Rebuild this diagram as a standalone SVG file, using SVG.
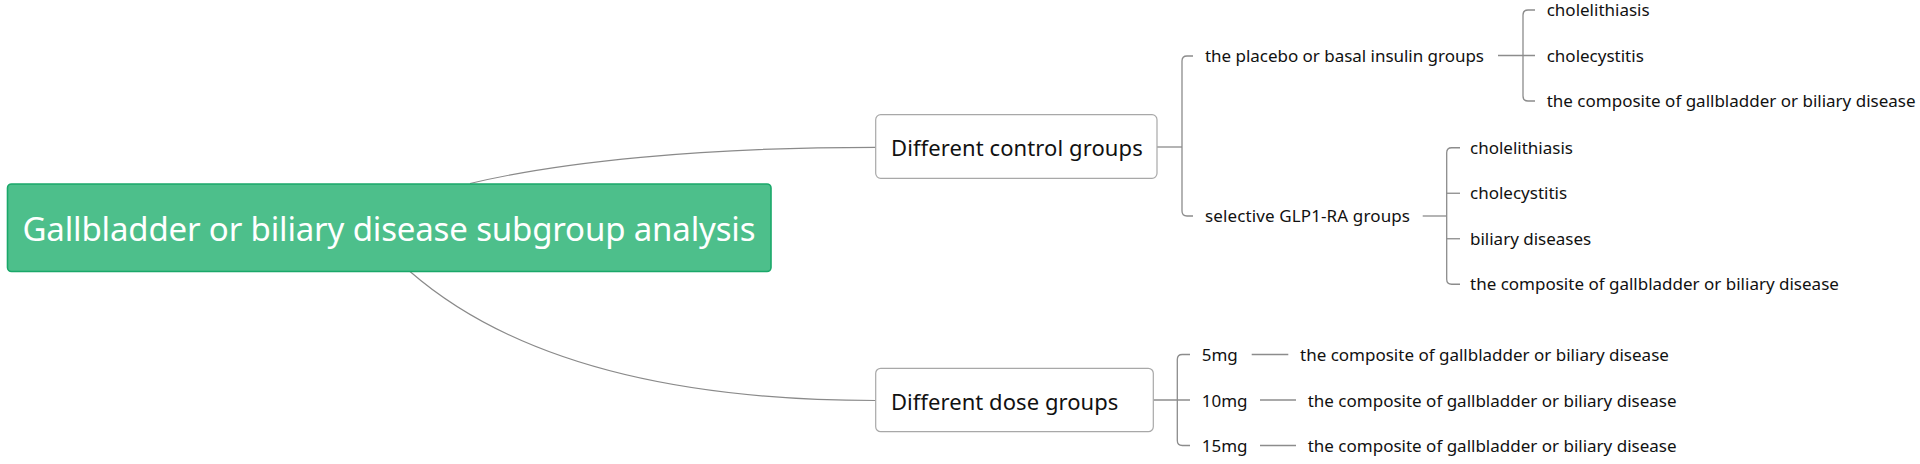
<svg xmlns="http://www.w3.org/2000/svg" width="1920" height="464" viewBox="0 0 1920 464">
  <style>
    .conn { fill: none; stroke: #8c8c8c; stroke-width: 1.3; }
    .curve { fill: none; stroke: #8a8a8a; stroke-width: 1.2; }
    .box { fill: #ffffff; stroke: #a8a8a8; stroke-width: 1.2; }
    .root { fill: #4dbf8b; stroke: #1aa86a; stroke-width: 1.6; }
    .t1 { font-family: "Noto Sans", "Open Sans", sans-serif; font-size: 22px; fill: #111111; }
    .t2 { font-family: "Noto Sans", "Open Sans", sans-serif; font-size: 17px; fill: #111111; }
    .t0 { font-family: "Noto Sans", "Open Sans", sans-serif; font-size: 33px; fill: #ffffff; }
  </style>
  <rect width="1920" height="464" fill="#ffffff"/>

  <g id="connectors">
    <path class="curve" d="M 470 183.5 C 560 162 700 147.3 875.7 147.3"/>
    <path class="curve" d="M 410 271.5 C 460 315 580 400.5 875.7 400.5"/>
    <!-- control groups bracket -->
    <path class="conn" d="M 1157 147 H 1182"/>
    <path class="conn" d="M 1193 56 H 1187 Q 1182 56 1182 61 V 211 Q 1182 216 1187 216 H 1193"/>
    <!-- placebo subgroup -->
    <path class="conn" d="M 1498 55.5 H 1535"/>
    <path class="conn" d="M 1535 10 H 1528 Q 1523 10 1523 15 V 96 Q 1523 101 1528 101 H 1535"/>
    <!-- GLP1 subgroup -->
    <path class="conn" d="M 1422.7 216 H 1446.7"/>
    <path class="conn" d="M 1460 147.75 H 1451.7 Q 1446.7 147.75 1446.7 152.75 V 279.25 Q 1446.7 284.25 1451.7 284.25 H 1460"/>
    <path class="conn" d="M 1446.7 193.25 H 1460"/>
    <path class="conn" d="M 1446.7 238.75 H 1460"/>
    <!-- dose groups bracket -->
    <path class="conn" d="M 1153.3 400 H 1190"/>
    <path class="conn" d="M 1190 354.5 H 1182.3 Q 1177.3 354.5 1177.3 359.5 V 440.5 Q 1177.3 445.5 1182.3 445.5 H 1190"/>
    <path class="conn" d="M 1251.7 354.5 H 1288.3"/>
    <path class="conn" d="M 1260 400 H 1296"/>
    <path class="conn" d="M 1260 445.5 H 1296"/>
  </g>

  <g id="root">
    <rect class="root" x="7.5" y="184" width="763.5" height="87.5" rx="4"/>
    <text class="t0" x="22.5" y="241" textLength="733" lengthAdjust="spacing">Gallbladder or biliary disease subgroup analysis</text>
  </g>

  <g id="control-groups">
    <rect class="box" x="875.7" y="114.7" width="281.3" height="63.6" rx="5"/>
    <text class="t1" x="891" y="155.5" textLength="251.7" lengthAdjust="spacing">Different control groups</text>
  </g>

  <g id="dose-groups">
    <rect class="box" x="875.7" y="368.3" width="277.6" height="63.4" rx="5"/>
    <text class="t1" x="891" y="409.5" textLength="227.3" lengthAdjust="spacing">Different dose groups</text>
  </g>

  <g id="placebo-groups">
    <text class="t2" x="1205" y="62" textLength="279" lengthAdjust="spacing">the placebo or basal insulin groups</text>
  </g>
  <g id="placebo-cholelithiasis">
    <text class="t2" x="1546.7" y="16">cholelithiasis</text>
  </g>
  <g id="placebo-cholecystitis">
    <text class="t2" x="1546.7" y="61.5">cholecystitis</text>
  </g>
  <g id="placebo-composite">
    <text class="t2" x="1546.7" y="107">the composite of gallbladder or biliary disease</text>
  </g>

  <g id="glp1-groups">
    <text class="t2" x="1205" y="222" textLength="205" lengthAdjust="spacing">selective GLP1-RA groups</text>
  </g>
  <g id="glp1-cholelithiasis">
    <text class="t2" x="1470" y="153.75">cholelithiasis</text>
  </g>
  <g id="glp1-cholecystitis">
    <text class="t2" x="1470" y="199.25">cholecystitis</text>
  </g>
  <g id="glp1-biliary">
    <text class="t2" x="1470" y="244.75">biliary diseases</text>
  </g>
  <g id="glp1-composite">
    <text class="t2" x="1470" y="290.25">the composite of gallbladder or biliary disease</text>
  </g>

  <g id="dose-5mg">
    <text class="t2" x="1201.7" y="361">5mg</text>
  </g>
  <g id="dose-5mg-composite">
    <text class="t2" x="1300" y="361">the composite of gallbladder or biliary disease</text>
  </g>
  <g id="dose-10mg">
    <text class="t2" x="1201.7" y="406.5">10mg</text>
  </g>
  <g id="dose-10mg-composite">
    <text class="t2" x="1307.7" y="406.5">the composite of gallbladder or biliary disease</text>
  </g>
  <g id="dose-15mg">
    <text class="t2" x="1201.7" y="452">15mg</text>
  </g>
  <g id="dose-15mg-composite">
    <text class="t2" x="1307.7" y="452">the composite of gallbladder or biliary disease</text>
  </g>
</svg>
